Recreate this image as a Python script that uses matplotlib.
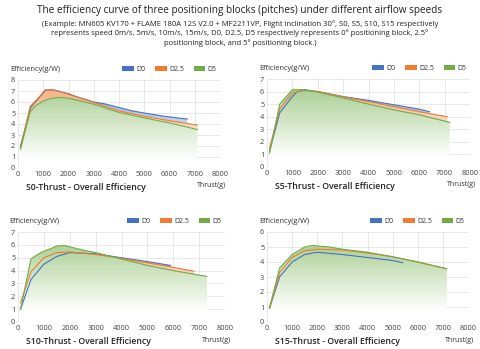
import numpy as np
import matplotlib
matplotlib.use("Agg")
import matplotlib.pyplot as plt
import matplotlib.colors as mcolors
from matplotlib.patches import Patch

plt.rcParams['font.family'] = ['Open Sans', 'DejaVu Sans']

series_names = ["D0", "D2.5", "D5"]
colors = ["#4472c4", "#ed7d31", "#70ad47"]

# S0
s0_x = [[100, 500, 800, 1100, 1400, 2000, 2300, 3000, 3500, 4500, 5000, 5800, 6700],
        [100, 480, 800, 1070, 1400, 1600, 2000, 3000, 4000, 5000, 6000, 7100],
        [100, 480, 670, 940, 1200, 1600, 2000, 3000, 4000, 5000, 6000, 7100]]
s0_y = [[2.0, 5.5, 6.3, 7.1, 7.1, 6.75, 6.5, 6.0, 5.8, 5.2, 5.0, 4.7, 4.45],
        [1.8, 5.6, 6.35, 7.1, 7.1, 7.0, 6.7, 5.95, 5.2, 4.7, 4.3, 3.9],
        [1.7, 5.1, 5.6, 6.0, 6.27, 6.42, 6.35, 5.8, 5.05, 4.55, 4.1, 3.5]]
# S5
s5_x = [[100, 500, 1000, 1200, 1500, 2000, 3000, 4000, 5000, 6000, 6400],
        [100, 500, 1000, 1500, 2000, 3000, 4000, 5000, 6000, 7100],
        [100, 500, 1000, 1500, 2000, 3000, 4000, 5000, 6000, 7200]]
s5_y = [[1.25, 4.3, 5.6, 6.0, 6.1, 6.0, 5.6, 5.3, 4.95, 4.6, 4.4],
        [1.5, 4.6, 5.9, 6.15, 6.0, 5.6, 5.2, 4.8, 4.4, 4.0],
        [1.1, 5.0, 6.15, 6.15, 5.95, 5.5, 5.0, 4.55, 4.15, 3.55]]
# S10
s10_x = [[100, 500, 1000, 1500, 2000, 3000, 4000, 5000, 5900],
         [100, 500, 1000, 1500, 2000, 3000, 4000, 5000, 6000, 6800],
         [100, 500, 800, 1000, 1500, 1800, 2500, 3000, 4000, 5000, 6000, 7000, 7300]]
s10_y = [[1.0, 3.3, 4.5, 5.1, 5.4, 5.3, 5.0, 4.7, 4.4],
         [1.5, 3.9, 5.0, 5.4, 5.45, 5.25, 4.95, 4.6, 4.25, 3.95],
         [1.0, 4.9, 5.3, 5.5, 5.9, 5.95, 5.6, 5.4, 4.9, 4.4, 4.0, 3.65, 3.55]]
# S15
s15_x = [[100, 500, 1000, 1500, 2000, 3000, 4000, 5000, 5400],
         [100, 500, 1000, 1500, 2000, 3000, 4000, 5000, 6000, 7150],
         [100, 500, 1000, 1500, 1800, 2500, 3000, 4000, 5000, 6000, 7150]]
s15_y = [[0.9, 3.0, 4.0, 4.5, 4.65, 4.5, 4.3, 4.1, 3.95],
         [0.9, 3.3, 4.3, 4.75, 4.85, 4.8, 4.6, 4.35, 4.0, 3.55],
         [0.95, 3.6, 4.5, 5.0, 5.1, 5.0, 4.85, 4.65, 4.35, 4.0, 3.55]]

panels = [("S0-Thrust - Overall Efficiency", s0_x, s0_y, 8, (18, 80, 220, 168)),
          ("S5-Thrust - Overall Efficiency", s5_x, s5_y, 7, (267, 79, 470, 167)),
          ("S10-Thrust - Overall Efficiency", s10_x, s10_y, 7, (18, 232, 225, 322)),
          ("S15-Thrust - Overall Efficiency", s15_x, s15_y, 6, (267, 232, 468, 322))]

W, H = 480, 349
fig = plt.figure(figsize=(W / 100, H / 100), dpi=100)

fig.text(0.5, 1 - 10 / H, "The efficiency curve of three positioning blocks (pitches) under different airflow speeds",
         ha="center", va="center", fontsize=7.2, color="#222222")
fig.text(0.5, 1 - 33.5 / H,
         "(Example: MN605 KV170 + FLAME 180A 12S V2.0 + MF2211VP, Flight inclination 30°, S0, S5, S10, S15 respectively\n"
         "represents speed 0m/s, 5m/s, 10m/s, 15m/s, D0, D2.5, D5 respectively represents 0° positioning block, 2.5°\n"
         "positioning block, and 5° positioning block.)",
         ha="center", va="center", fontsize=5.5, color="#222222", linespacing=1.3)


def grad_fill(ax, x, y, color, ymax, z):
    poly, = ax.fill(np.r_[x[0], x, x[-1]], np.r_[0, y, 0], facecolor="none", edgecolor="none")
    rgb = np.array(mcolors.to_rgb(color))
    g = np.clip((np.linspace(0, ymax, 256) - 0.8) / (ymax - 1.3), 0, 1)[:, None] * 0.62
    img = np.ones((256, 1, 3))
    img[..., :] = 1 - (1 - rgb) * g[..., None]
    im = ax.imshow(img, aspect="auto", extent=[0, 8000, 0, ymax], origin="lower",
                   zorder=z, interpolation="bilinear")
    im.set_clip_path(poly)


for title, xs, ys, ymax, (l, t, r, b) in panels:
    ax = fig.add_axes([l / W, 1 - b / H, (r - l) / W, (b - t) / H])
    for i in range(3):
        grad_fill(ax, np.array(xs[i]), np.array(ys[i]), colors[i], ymax, 1 + i)
    for i in range(3):
        ax.plot(xs[i], ys[i], color=colors[i], lw=0.8, zorder=5)
    ax.set_xlim(0, 8000)
    ax.set_ylim(0, ymax)
    ax.set_xticks(range(0, 8001, 1000))
    ax.set_yticks(range(0, ymax + 1))
    ax.grid(True, color="#e4e4e4", lw=0.6)
    ax.set_axisbelow(True)
    for s in ax.spines.values():
        s.set_visible(False)
    ax.tick_params(length=0, labelsize=5.3, colors="#444444", pad=2)
    ax.text(-0.04, 1.12, "Efficiency(g/W)", transform=ax.transAxes, fontsize=5.3, color="#333333",
            ha="left", va="center")
    handles = [Patch(facecolor=c, edgecolor="none") for c in colors]
    ax.legend(handles, series_names, loc="center right", bbox_to_anchor=(1.0, 1.12), ncol=3,
              frameon=False, fontsize=5, handlelength=1.7, handleheight=0.8, handletextpad=0.3,
              columnspacing=1.4, labelcolor="#333333", borderpad=0)
    ax.text(0.04, -0.22, title, transform=ax.transAxes, fontsize=6.3, color="#222222",
            ha="left", va="center", fontweight="semibold")
    ax.text(1.03, -0.2, "Thrust(g)", transform=ax.transAxes, fontsize=5, color="#333333",
            ha="right", va="center")

plt.savefig("out.png", dpi=100)
